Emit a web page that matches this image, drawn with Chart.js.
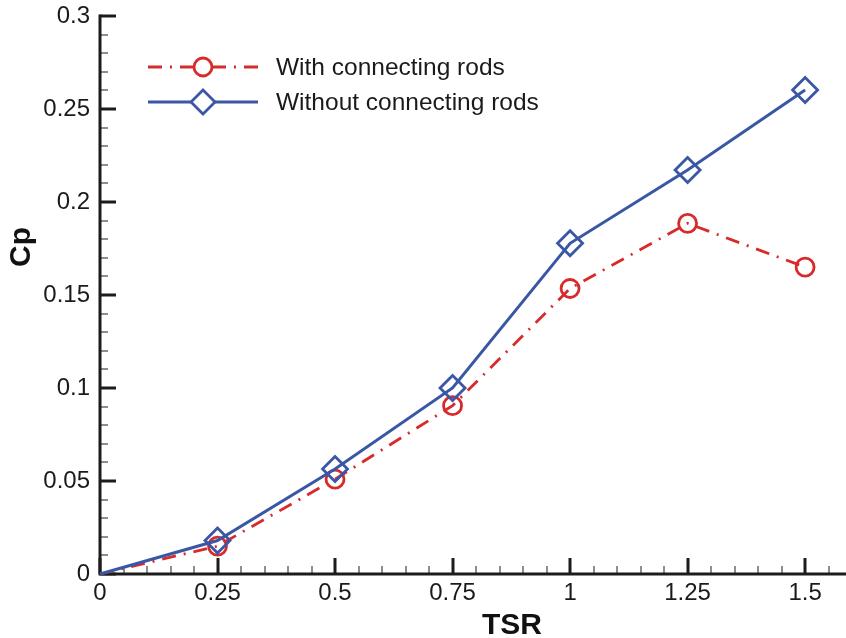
<!DOCTYPE html>
<html>
<head>
<meta charset="utf-8">
<title>Cp vs TSR</title>
<script src="https://cdn.jsdelivr.net/npm/chart.js@4.4.1/dist/chart.umd.min.js"></script>
<style>
  html, body { margin: 0; padding: 0; background: #fff; }
  canvas { display: block; }
</style>
</head>
<body>
<canvas id="cpChart" width="846" height="638"></canvas>
<script>
// TSR values and power coefficient for both rotor configurations
const tsr = [0, 0.25, 0.5, 0.75, 1.0, 1.25, 1.5];
const cpWithRods = [0, 0.015, 0.051, 0.0905, 0.1535, 0.1885, 0.165];
const cpWithoutRods = [0, 0.018, 0.0565, 0.1, 0.1778, 0.2172, 0.2602];

const seriesLabels = ["With connecting rods", "Without connecting rods"];

// Axis ticks
const xTicks = [0, 0.25, 0.5, 0.75, 1, 1.25, 1.5];
const xTickLabels = ["0", "0.25", "0.5", "0.75", "1", "1.25", "1.5"];
const yTicks = [0, 0.05, 0.1, 0.15, 0.2, 0.25, 0.3];
const yTickLabels = ["0", "0.05", "0.1", "0.15", "0.2", "0.25", "0.3"];
const xMinorStep = 0.05;
const yMinorStep = 0.01;

const RED = "#d82a2a";
const BLUE = "#3a57a5";
const AXIS = "#1c1c1c";
const FONT = "'Liberation Sans', Arial, sans-serif";

function toPoints(xs, ys) {
  return xs.map((x, i) => ({ x: x, y: ys[i] }));
}

// Axes are drawn by hand so the ticks point inward
const axesPlugin = {
  id: "inwardAxes",
  beforeDatasetsDraw(chart) {
    const { ctx, chartArea, scales } = chart;
    const xs = scales.x;
    const ys = scales.y;
    ctx.save();
    ctx.lineCap = "butt";

    // minor ticks
    ctx.lineWidth = 1.5;
    ctx.strokeStyle = "#6a6a6a";
    ctx.beginPath();
    for (let v = xMinorStep; v < xs.max; v += xMinorStep) {
      const px = Math.round(xs.getPixelForValue(v));
      ctx.moveTo(px, chartArea.bottom);
      ctx.lineTo(px, chartArea.bottom - 8);
    }
    for (let v = yMinorStep; v < ys.max + 1e-9; v += yMinorStep) {
      const py = Math.round(ys.getPixelForValue(v));
      ctx.moveTo(chartArea.left, py);
      ctx.lineTo(chartArea.left + 8, py);
    }
    ctx.stroke();

    // major ticks
    ctx.strokeStyle = AXIS;
    ctx.lineWidth = 3;
    ctx.beginPath();
    xTicks.forEach((v) => {
      const px = Math.round(xs.getPixelForValue(v));
      ctx.moveTo(px, chartArea.bottom);
      ctx.lineTo(px, chartArea.bottom - 16);
    });
    yTicks.forEach((v) => {
      const py = Math.round(ys.getPixelForValue(v));
      ctx.moveTo(chartArea.left, py);
      ctx.lineTo(chartArea.left + 16, py);
    });
    ctx.stroke();

    // axis lines
    ctx.beginPath();
    ctx.moveTo(chartArea.left, chartArea.top - 1.5);
    ctx.lineTo(chartArea.left, chartArea.bottom);
    ctx.lineTo(chartArea.right, chartArea.bottom);
    ctx.stroke();

    // axis titles
    ctx.fillStyle = "#111";
    ctx.font = "bold 30px " + FONT;
    ctx.textAlign = "center";
    ctx.textBaseline = "middle";
    ctx.fillText("TSR", 512, 626);
    ctx.translate(22, 247);
    ctx.rotate(-Math.PI / 2);
    ctx.fillText("Cp", 0, 0);
    ctx.restore();
  },
};

// Legend with line samples and markers
const legendPlugin = {
  id: "lineLegend",
  afterDraw(chart) {
    const { ctx } = chart;
    const rows = [
      { ds: chart.data.datasets[0], y: 67, r: 9 },
      { ds: chart.data.datasets[1], y: 102, r: 12 },
    ];
    ctx.save();
    rows.forEach((row) => {
      const ds = row.ds;
      ctx.strokeStyle = ds.borderColor;
      ctx.lineWidth = ds.borderWidth;
      ctx.setLineDash(ds.borderDash || []);
      ctx.beginPath();
      ctx.moveTo(148, row.y);
      ctx.lineTo(258, row.y);
      ctx.stroke();
      ctx.setLineDash([]);
      ctx.fillStyle = "#fff";
      ctx.lineWidth = ds.pointBorderWidth;
      Chart.helpers.drawPoint(ctx, {
        pointStyle: ds.pointStyle,
        rotation: 0,
        radius: row.r,
        borderWidth: ds.pointBorderWidth,
      }, 203, row.y);
      ctx.fillStyle = "#1a1a1a";
      ctx.font = "24.5px " + FONT;
      ctx.textAlign = "left";
      ctx.textBaseline = "middle";
      ctx.fillText(ds.label, 276, row.y + 1);
    });
    ctx.restore();
  },
};

new Chart(document.getElementById("cpChart"), {
  type: "line",
  data: {
    datasets: [
      {
        label: seriesLabels[0],
        data: toPoints(tsr, cpWithRods),
        borderColor: RED,
        borderWidth: 2.8,
        borderDash: [14, 8, 2, 8],
        pointStyle: "circle",
        pointRadius: (c) => (c.dataIndex === 0 ? 0 : 9),
        pointBorderWidth: 2.8,
        pointBorderColor: RED,
        pointBackgroundColor: "rgba(255,255,255,0)",
        tension: 0,
        order: 2,
      },
      {
        label: seriesLabels[1],
        data: toPoints(tsr, cpWithoutRods),
        borderColor: BLUE,
        borderWidth: 3,
        pointStyle: "rectRot",
        pointRadius: (c) => (c.dataIndex === 0 ? 0 : 12.5),
        pointBorderWidth: 2.8,
        pointBorderColor: BLUE,
        pointBackgroundColor: "rgba(255,255,255,0)",
        tension: 0,
        order: 1,
      },
    ],
  },
  options: {
    responsive: false,
    animation: false,
    clip: false,
    layout: {
      autoPadding: false,
      padding: { top: 16, right: 0, left: 0, bottom: 0 },
    },
    plugins: {
      legend: { display: false },
      tooltip: { enabled: false },
    },
    scales: {
      x: {
        type: "linear",
        min: 0,
        max: 1.587,
        afterBuildTicks: (scale) => {
          scale.ticks = xTicks.map((v) => ({ value: v }));
        },
        afterFit: (scale) => {
          scale.height = 64;
          scale.paddingLeft = 0;
          scale.paddingRight = 0;
        },
        grid: { display: false, drawTicks: false },
        border: { display: false },
        ticks: {
          autoSkip: false,
          maxRotation: 0,
          padding: 5,
          color: "#1a1a1a",
          font: { family: FONT, size: 24 },
          callback: (v) => xTickLabels[xTicks.indexOf(v)],
        },
      },
      y: {
        min: 0,
        max: 0.3,
        afterBuildTicks: (scale) => {
          scale.ticks = yTicks.map((v) => ({ value: v }));
        },
        afterFit: (scale) => {
          scale.width = 100;
          scale.paddingTop = 0;
          scale.paddingBottom = 0;
        },
        grid: { display: false, drawTicks: false },
        border: { display: false },
        ticks: {
          autoSkip: false,
          padding: 10,
          color: "#1a1a1a",
          font: { family: FONT, size: 24 },
          callback: (v) => yTickLabels[yTicks.indexOf(v)],
        },
      },
    },
  },
  plugins: [axesPlugin, legendPlugin],
});
</script>
</body>
</html>
